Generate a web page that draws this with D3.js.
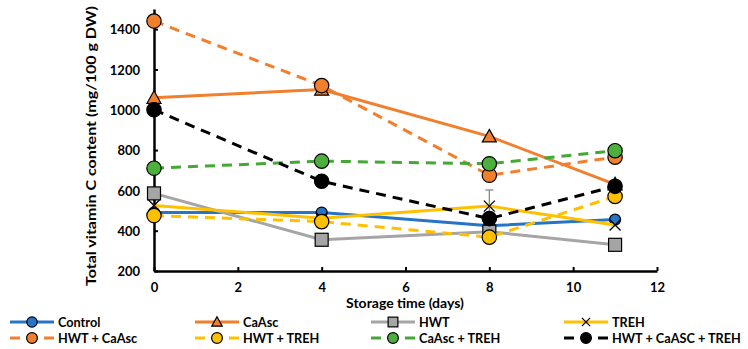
<!DOCTYPE html>
<html>
<head>
<meta charset="utf-8">
<script src="https://cdn.jsdelivr.net/npm/d3@7"></script>
<style>
  body { margin: 0; background: #fff; }
  text { font-family: Lato, "Open Sans", sans-serif; font-weight: bold; fill: #000; }
</style>
</head>
<body>
<svg id="chart" width="748" height="349"></svg>
<script>
// ---- data ----
const days = [0, 4, 8, 11];
const control      = [490, 490, 425, 455];
const caAsc        = [1060, 1100, 868, 630];
const hwt          = [585, 355, 395, 330];
const treh         = [525, 462, 522, 428];
const hwtCaAsc     = [1440, 1120, 675, 765];
const hwtTreh      = [475, 445, 368, 570];
const caAscTreh    = [710, 745, 732, 797];
const hwtCaAscTreh = [1000, 645, 460, 620];

const errControl = [0, 0, 0, 15];
const errHwt = [25, 0, 0, 0];
const errTreh = [0, 0, 80, 0];
const errTriple = [0, 0, 0, 20];

const xTicks = [0, 2, 4, 6, 8, 10, 12];
const yTicks = [200, 400, 600, 800, 1000, 1200, 1400];

const seriesNames = ["Control", "CaAsc", "HWT", "TREH",
  "HWT + CaAsc", "HWT + TREH", "CaAsc + TREH", "HWT + CaASC + TREH"];

// ---- styles ----
const series = [
  {name: seriesNames[0], values: control, err: errControl, color: "#2574C6", fill: "#2574C6", dash: null, marker: "circleSmall"},
  {name: seriesNames[1], values: caAsc, err: null, color: "#F07F2E", fill: "#F07F2E", dash: null, marker: "triangle"},
  {name: seriesNames[2], values: hwt, err: errHwt, color: "#A5A5A5", fill: "#A5A5A5", dash: null, marker: "square"},
  {name: seriesNames[3], values: treh, err: errTreh, color: "#FFC000", fill: "none", dash: null, marker: "x"},
  {name: seriesNames[4], values: hwtCaAsc, err: null, color: "#F07F2E", fill: "#F07F2E", dash: "10,7", marker: "circle"},
  {name: seriesNames[5], values: hwtTreh, err: null, color: "#FFC000", fill: "#FFC000", dash: "10,7", marker: "circle"},
  {name: seriesNames[6], values: caAscTreh, err: null, color: "#43A834", fill: "#4DAF3C", dash: "10,7", marker: "circle"},
  {name: seriesNames[7], values: hwtCaAscTreh, err: errTriple, color: "#000000", fill: "#000000", dash: "10,7", marker: "circle"}
];

const svg = d3.select("#chart");
svg.append("rect").attr("width", 748).attr("height", 349).attr("fill", "#fff");

const x = d3.scaleLinear().domain([0, 12]).range([154, 657]);
const y = d3.scaleLinear().domain([200, 1500]).range([271, 9]);

// axes
const xAxis = d3.axisBottom(x).tickValues(xTicks).tickFormat(d3.format("d")).tickSizeInner(-4).tickSizeOuter(0).tickPadding(12);
const yAxis = d3.axisLeft(y).tickValues(yTicks).tickFormat(d3.format("d")).tickSizeInner(-4).tickSizeOuter(0).tickPadding(14);

const gx = svg.append("g").attr("transform", `translate(0,${y(200)})`).call(xAxis);
const gy = svg.append("g").attr("transform", `translate(${x(0)},0)`).call(yAxis);
[gx, gy].forEach(g => {
  g.select(".domain").attr("stroke", "#000").attr("stroke-width", 2.5);
  g.selectAll(".tick line").attr("stroke", "#000").attr("stroke-width", 2);
  g.selectAll(".tick text").style("font-size", "13px").style("font-family", "Lato, sans-serif").style("font-weight", "bold").attr("fill", "#000");
});
gy.selectAll(".tick text").attr("dy", "0.36em");

// axis titles
svg.append("text").attr("x", 405).attr("y", 308).attr("text-anchor", "middle")
  .style("font-size", "14px").text("Storage time (days)");
svg.append("text").attr("transform", "translate(96,146) rotate(-90)").attr("text-anchor", "middle")
  .style("font-size", "14px").attr("textLength", 280).attr("lengthAdjust", "spacingAndGlyphs")
  .text("Total vitamin C  content (mg/100 g DW)");

// marker drawing
function drawMarker(g, type, cx, cy, s, color, fill, legend) {
  const k = legend ? 0.75 : 1;
  if (type === "circle") {
    g.append("circle").attr("cx", cx).attr("cy", cy).attr("r", 7.2 * k)
      .attr("fill", fill).attr("stroke", "#000").attr("stroke-width", 1.2);
  } else if (type === "circleSmall") {
    g.append("circle").attr("cx", cx).attr("cy", cy).attr("r", 5.5 * (legend ? 0.95 : 1))
      .attr("fill", fill).attr("stroke", "#000").attr("stroke-width", 1.2);
  } else if (type === "square") {
    const h = 6.5 * k;
    g.append("rect").attr("x", cx - h).attr("y", cy - h).attr("width", 2 * h).attr("height", 2 * h)
      .attr("fill", fill).attr("stroke", "#000").attr("stroke-width", 1.2);
  } else if (type === "triangle") {
    const h = 7 * k;
    g.append("path").attr("d", `M${cx},${cy - h}L${cx + h},${cy + h * 0.8}L${cx - h},${cy + h * 0.8}Z`)
      .attr("fill", fill).attr("stroke", "#000").attr("stroke-width", 1.2);
  } else if (type === "x") {
    const h = 5.5 * k;
    g.append("path").attr("d", `M${cx - h},${cy - h}L${cx + h},${cy + h}M${cx - h},${cy + h}L${cx + h},${cy - h}`)
      .attr("stroke", "#000").attr("stroke-width", 1.3).attr("fill", "none");
  }
}

const line = d3.line().x((d, i) => x(days[i])).y(d => y(d));

series.forEach(s => {
  const g = svg.append("g");
  if (s.err) {
    s.values.forEach((v, i) => {
      const e = s.err[i];
      if (!e) return;
      const cx = x(days[i]);
      g.append("line").attr("x1", cx).attr("x2", cx).attr("y1", y(v - e)).attr("y2", y(v + e))
        .attr("stroke", "#7F7F7F").attr("stroke-width", 1.2);
      [v - e, v + e].forEach(t => {
        g.append("line").attr("x1", cx - 4).attr("x2", cx + 4).attr("y1", y(t)).attr("y2", y(t))
          .attr("stroke", "#7F7F7F").attr("stroke-width", 1.2);
      });
    });
  }
  g.append("path").datum(s.values).attr("d", line).attr("fill", "none")
    .attr("stroke", s.color).attr("stroke-width", 3)
    .attr("stroke-dasharray", s.dash);
  s.values.forEach((v, i) => drawMarker(g, s.marker, x(days[i]), y(v), 0, s.color, s.fill, false));
});

// legend
const colLine = [10, 195, 371, 564];
const rowY = [322, 338];
series.forEach((s, i) => {
  const col = i % 4, row = Math.floor(i / 4);
  const x0 = colLine[col], yy = rowY[row];
  const g = svg.append("g");
  g.append("line").attr("x1", x0).attr("x2", x0 + 44).attr("y1", yy).attr("y2", yy)
    .attr("stroke", s.color).attr("stroke-width", 3)
    .attr("stroke-dasharray", s.dash);
  drawMarker(g, s.marker, x0 + 22, yy, 0, s.color, s.fill, true);
  g.append("text").attr("x", x0 + 48).attr("y", yy).attr("dy", "0.36em")
    .style("font-size", "12.7px").text(s.name);
});
</script>
</body>
</html>
